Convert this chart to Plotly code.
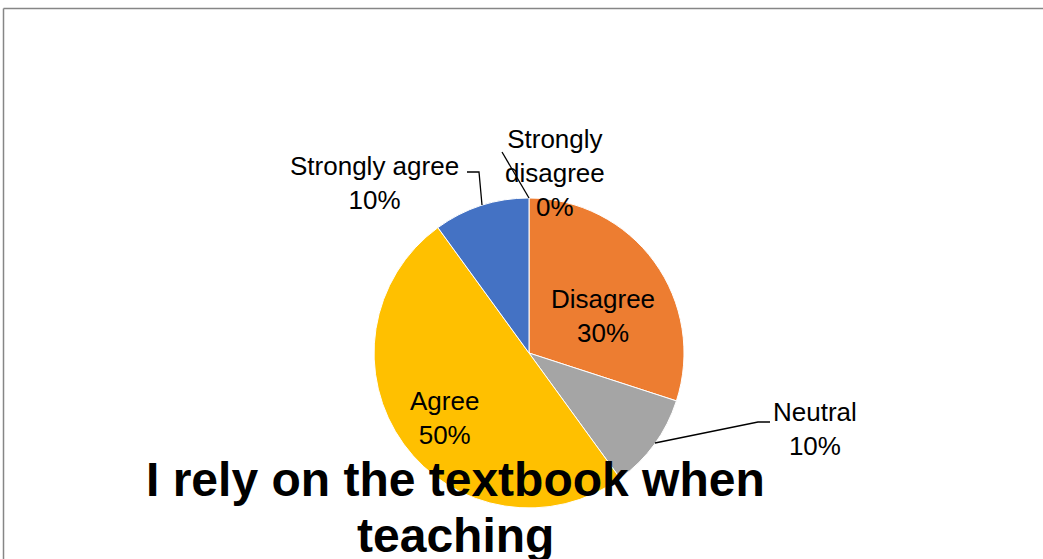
import plotly.graph_objects as go

# Survey responses
categories = ["Strongly disagree", "Disagree", "Neutral", "Agree", "Strongly agree"]
shares = [0, 30, 10, 50, 10]
colors = ["#5B9BD5", "#ED7D31", "#A5A5A5", "#FFC000", "#4472C4"]
title_lines = ["I rely on the textbook when", "teaching"]

W, H = 1043, 559
FONT = "Liberation Sans, Arial, sans-serif"


def px(x):
    return x / W


def py(y):
    return 1 - y / H


fig = go.Figure(
    go.Pie(
        labels=categories,
        values=shares,
        marker=dict(colors=colors, line=dict(color="white", width=1)),
        sort=False,
        direction="clockwise",
        rotation=0,
        textinfo="none",
        hoverinfo="label+percent",
        showlegend=False,
        domain=dict(x=[px(374), px(684)], y=[py(508), py(198)]),
    )
)

# label placement (centre of each text block) and leader lines
label_pos = {
    "Strongly disagree": (555, 173),
    "Disagree": (603, 316),
    "Neutral": (815, 429),
    "Agree": (444, 418),
    "Strongly agree": (374, 183),
}
wrapped = {"Strongly disagree": "Strongly<br>disagree"}

annotations = []
for name, val in zip(categories, shares):
    x, y = label_pos[name]
    annotations.append(
        dict(
            x=px(x), y=py(y), xref="paper", yref="paper",
            xanchor="center", yanchor="middle", showarrow=False,
            text=f"{wrapped.get(name, name)}<br>{val}%",
            font=dict(family=FONT, size=26, color="#000000"),
        )
    )

# chart title, one annotation per line for tighter line spacing
for line, yc in zip(title_lines, [479, 535]):
    annotations.append(
        dict(
            x=px(455), y=py(yc), xref="paper", yref="paper",
            xanchor="center", yanchor="middle", showarrow=False,
            text=f"<b>{line}</b>",
            font=dict(family=FONT, size=48, color="#000000"),
        )
    )

leaders = [
    [(467, 172), (479, 172), (482, 205)],
    [(502, 152), (529, 198)],
    [(770, 422), (758, 422), (655, 443)],
]
shapes = []
for pts in leaders:
    path = "M " + " L ".join(f"{px(a)},{py(b)}" for a, b in pts)
    shapes.append(dict(type="path", xref="paper", yref="paper", path=path,
                       line=dict(color="#000000", width=1.3)))

# chart frame
shapes.append(dict(type="line", xref="paper", yref="paper",
                   x0=px(3.5), x1=1, y0=py(8.5), y1=py(8.5),
                   line=dict(color="#868686", width=1.5)))
shapes.append(dict(type="line", xref="paper", yref="paper",
                   x0=px(3.5), x1=px(3.5), y0=py(8.5), y1=0,
                   line=dict(color="#868686", width=1.5)))

fig.update_layout(
    width=W, height=H,
    margin=dict(l=0, r=0, t=0, b=0),
    paper_bgcolor="white", plot_bgcolor="white",
    annotations=annotations,
    shapes=shapes,
)

fig.write_html("out.html")
